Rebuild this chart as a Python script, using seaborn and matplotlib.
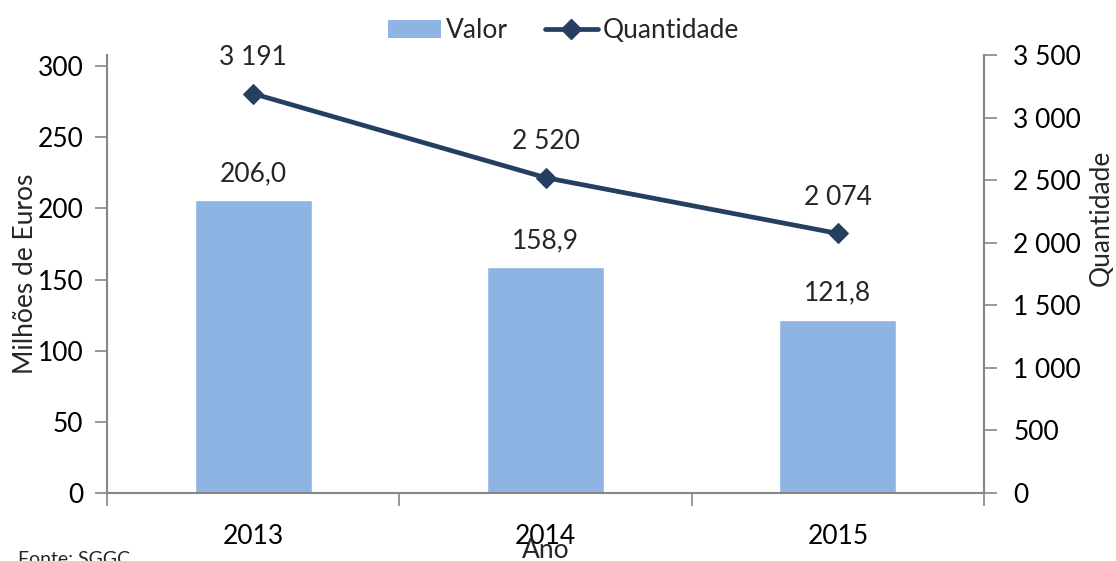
import numpy as np
import pandas as pd
import matplotlib
matplotlib.use("Agg")
import matplotlib.pyplot as plt
import seaborn as sns
from matplotlib.lines import Line2D
from matplotlib.patches import Patch

sns.set_theme(style="white")
plt.rcParams['font.family'] = ['Lato', 'DejaVu Sans']

anos = ["2013", "2014", "2015"]
valor = [206.0, 158.9, 121.8]
quantidade = [3191, 2520, 2074]
valor_labels = ["206,0", "158,9", "121,8"]
quant_labels = ["3 191", "2 520", "2 074"]
left_ticks = [0, 50, 100, 150, 200, 250, 300]
right_ticks = [0, 500, 1000, 1500, 2000, 2500, 3000, 3500]
right_tick_labels = ["0", "500", "1 000", "1 500", "2 000", "2 500", "3 000", "3 500"]

bar_color = "#8EB4E3"
line_color = "#243F60"
spine_color = "#868686"
fs = 19

df = pd.DataFrame({"Ano": anos, "Valor": valor, "Quantidade": quantidade})

fig = plt.figure(figsize=(11.16, 5.61), dpi=100)
ax = fig.add_axes([107/1116, 1-493/561, (984-107)/1116, (493-55)/561])
sns.barplot(data=df, x="Ano", y="Valor", color=bar_color, width=0.4, ax=ax, saturation=1)
ax.set_xlim(-0.5, 2.5)
ax.set_ylim(0, 300 * (438/427))
ax.set_yticks(left_ticks)
ax.set_yticklabels([str(t) for t in left_ticks], fontsize=fs)

ax2 = ax.twinx()
sns.lineplot(x=np.arange(len(anos)), y=quantidade, ax=ax2, color=line_color, linewidth=3.4,
             marker="D", markersize=10, markeredgecolor=line_color)
ax2.set_ylim(0, 3500)
ax2.set_yticks(right_ticks)
ax2.set_yticklabels(right_tick_labels, fontsize=fs)
ax2.set_xlim(-0.5, 2.5)

for a in (ax, ax2):
    for s in a.spines.values():
        s.set_visible(False)
ax.spines['left'].set_visible(True)
ax.spines['left'].set_color(spine_color)
ax.spines['bottom'].set_visible(True)
ax.spines['bottom'].set_color(spine_color)
ax2.spines['right'].set_visible(True)
ax2.spines['right'].set_color(spine_color)
for s in ('left', 'bottom'):
    ax.spines[s].set_linewidth(1.5)
ax2.spines['right'].set_linewidth(1.5)

ax.tick_params(axis='y', which='both', left=True, length=9, width=1.2, color=spine_color,
               labelcolor='black', pad=8)
ax2.tick_params(axis='y', which='both', right=True, length=9, width=1.2, color=spine_color,
                labelcolor='black', pad=12)

# x axis: labels at centers, ticks at category boundaries
ax.set_xticks(np.arange(len(anos)))
ax.set_xticklabels(anos, fontsize=fs)
ax.tick_params(axis='x', which='major', bottom=False, length=0, pad=22, labelcolor='black')
ax.set_xticks(np.arange(-0.5, len(anos)), minor=True)
ax.tick_params(axis='x', which='minor', bottom=True, length=9, width=1.2, color=spine_color)

ax.set_xlabel("Ano", fontsize=fs)
ax.xaxis.set_label_coords(0.5, (493 - 538) / 438)
ax.set_ylabel("Milhões de Euros", fontsize=fs)
ax.yaxis.set_label_coords((38 - 107) / 877, 0.5)
ax2.set_ylabel("Quantidade", fontsize=fs)
ax2.yaxis.set_label_coords((1089 - 107) / 877, (493 - 218) / 438)

for i, (v, lab) in enumerate(zip(valor, valor_labels)):
    ax.annotate(lab, (i, v), xytext=(0, 10), textcoords="offset points", ha="center",
                va="bottom", fontsize=fs)
for i, (q, lab) in enumerate(zip(quantidade, quant_labels)):
    ax2.annotate(lab, (i, q), xytext=(0, 17), textcoords="offset points", ha="center",
                 va="bottom", fontsize=fs)

handles = [Patch(facecolor=bar_color, edgecolor='none'),
           Line2D([0], [0], color=line_color, lw=3.4, marker="D", markersize=10)]
fig.legend(handles, ["Valor", "Quantidade"], loc="upper center", bbox_to_anchor=(0.505, 1.01),
           ncol=2, frameon=False, fontsize=fs, handlelength=2.0, handletextpad=0.2,
           columnspacing=1.4)

fig.text(18/1116, 1 - 568/561, "Fonte: SGGC", fontsize=14, ha="left", va="bottom")

fig.savefig("out.png", dpi=100)
